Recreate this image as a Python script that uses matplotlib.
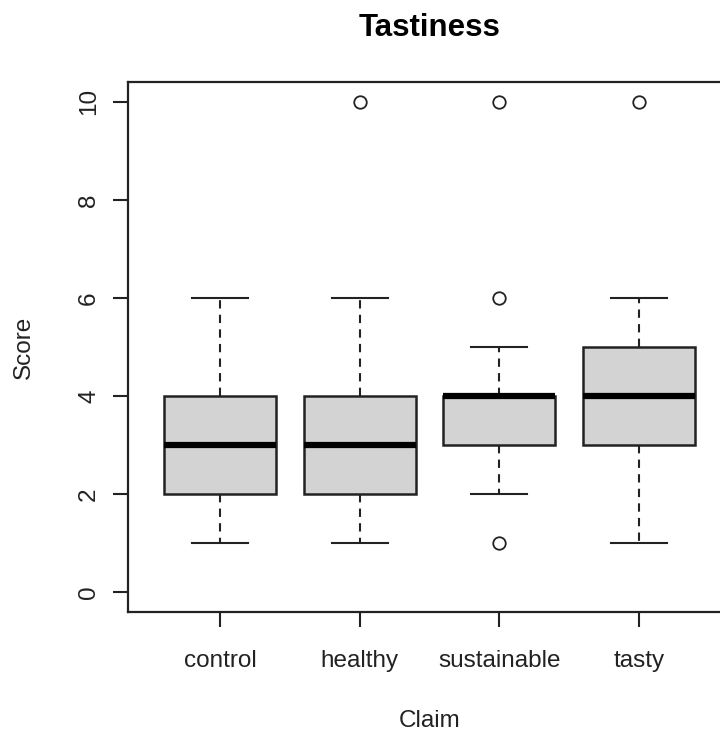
import matplotlib
matplotlib.use("Agg")
import matplotlib.pyplot as plt

# summary stats per claim group
claims = ["control", "healthy", "sustainable", "tasty"]
medians = [3, 3, 4, 4]
q1 = [2, 2, 3, 3]
q3 = [4, 4, 4, 5]
whisk_lo = [1, 1, 2, 1]
whisk_hi = [6, 6, 5, 6]
outliers = [[], [10], [10, 6, 1], [10]]
yticks = [0, 2, 4, 6, 8, 10]

plt.rcParams["font.family"] = ["Liberation Sans", "DejaVu Sans"]

stats = []
for i, name in enumerate(claims):
    stats.append({
        "label": name,
        "med": medians[i],
        "q1": q1[i],
        "q3": q3[i],
        "whislo": whisk_lo[i],
        "whishi": whisk_hi[i],
        "fliers": outliers[i],
    })

fig = plt.figure(figsize=(7.2, 7.33), dpi=100)
ax = fig.add_axes([0.1778, 0.165, 0.8375, 0.723])

ax.bxp(stats, positions=range(1, 5), widths=0.8, patch_artist=True,
       boxprops=dict(facecolor="#d3d3d3", edgecolor="#222222", linewidth=1.8),
       medianprops=dict(color="black", linewidth=4.5, solid_capstyle="butt"),
       whiskerprops=dict(color="#222222", linewidth=1.5, linestyle=(0, (4, 3))),
       capprops=dict(color="#222222", linewidth=1.5),
       capwidths=0.4,
       flierprops=dict(marker="o", markersize=9, markerfacecolor="none",
                       markeredgecolor="#222222", markeredgewidth=1.3))

ax.set_xlim(0.34, 4.66)
ax.set_ylim(-0.4, 10.4)
ax.set_yticks(yticks)
ax.set_yticklabels([str(v) for v in yticks], rotation=90, va="center")
ax.set_xticks(range(1, 5))
ax.set_xticklabels(claims)

for side in ax.spines.values():
    side.set_linewidth(1.6)
    side.set_color("#222222")
ax.tick_params(axis="both", length=11, width=1.5, color="#222222",
               labelsize=17.5, labelcolor="#222222")
ax.tick_params(axis="y", pad=9)
ax.tick_params(axis="x", pad=16)

ax.set_title("Tastiness", fontsize=22.5, fontweight="bold", pad=33)
ax.set_xlabel("Claim", fontsize=17.5, labelpad=28, color="#222222")
ax.set_ylabel("Score", fontsize=17.5, labelpad=31, color="#222222")

fig.savefig("out.png", dpi=100)
